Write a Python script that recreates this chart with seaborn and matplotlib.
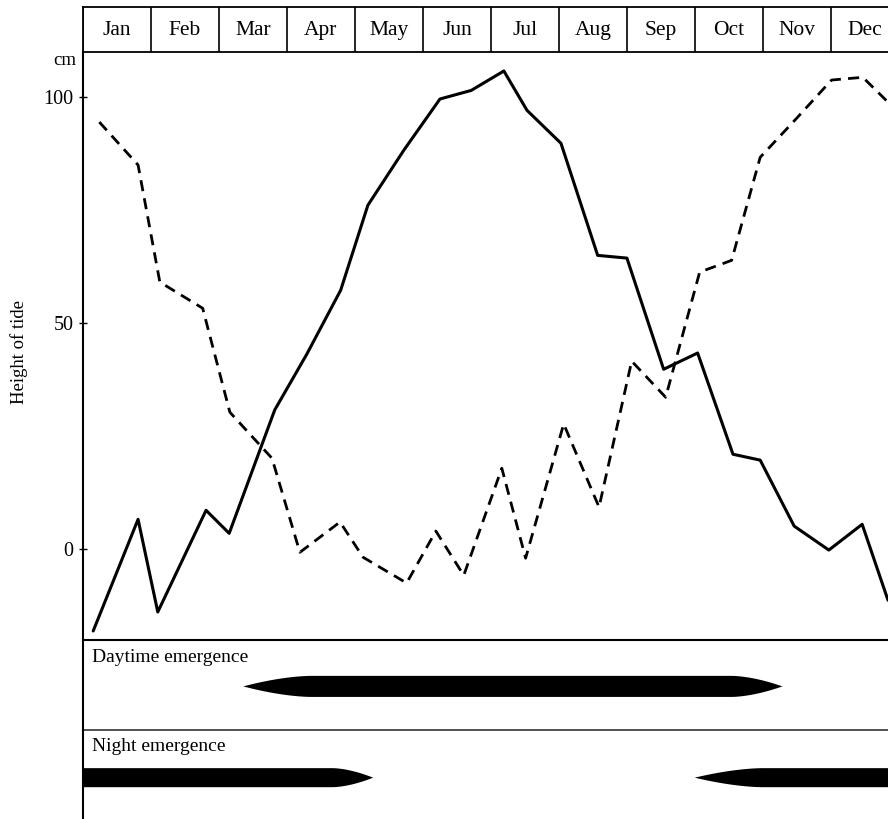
import numpy as np
import pandas as pd
import seaborn as sns
import matplotlib.pyplot as plt

# month labels for the header strip
months = ["Jan", "Feb", "Mar", "Apr", "May", "Jun",
          "Jul", "Aug", "Sep", "Oct", "Nov", "Dec"]

# solid line: position in months (0 = start of Jan), height of tide in cm
solid_x = [0.15, 0.81, 1.10, 1.81, 2.15, 2.82, 3.29, 3.79, 4.19, 4.72, 5.25, 5.71,
           6.19, 6.53, 7.03, 7.57, 8.00, 8.54, 9.04, 9.56, 9.96, 10.46, 10.97,
           11.46, 11.84]
solid_h = [-18.1, 6.6, -13.9, 8.6, 3.5, 30.8, 43.1, 57.3, 76.1, 88.3, 99.6, 101.5,
           105.8, 97.1, 89.8, 65.0, 64.4, 39.8, 43.4, 21.0, 19.7, 5.1, -0.2,
           5.5, -11.3]

# dashed line
dashed_x = [0.24, 0.81, 1.13, 1.76, 2.16, 2.78, 3.19, 3.78, 4.12, 4.76, 5.19, 5.60,
            6.16, 6.51, 7.07, 7.59, 8.07, 8.57, 9.07, 9.54, 9.96, 10.50, 11.01,
            11.47, 11.84]
dashed_h = [94.5, 85.0, 59.1, 53.3, 30.3, 20.1, -0.7, 6.0, -1.8, -7.5, 4.0, -5.8,
            17.9, -2.0, 27.7, 9.3, 41.6, 33.6, 61.3, 63.9, 86.7, 95.4, 103.8,
            104.4, 98.9]

# emergence periods (start month, end month)
day_periods = [(2.35, 10.28)]
night_periods = [(-0.5, 4.26), (8.99, 12.5)]

XMAX = 11.84
sns.set_style("white")
plt.rcParams["font.family"] = ["Liberation Serif", "DejaVu Serif"]
plt.rcParams["text.color"] = "black"
plt.rcParams["axes.labelcolor"] = "black"
plt.rcParams["ytick.color"] = "black"

fig = plt.figure(figsize=(8.88, 8.19), dpi=100)
L, W = 83 / 888, 805 / 888

ax_head = fig.add_axes([L, (819 - 52) / 819, W, 45 / 819])
ax = fig.add_axes([L, (819 - 640) / 819, W, 588 / 819])
ax_day = fig.add_axes([L, (819 - 730) / 819, W, 90 / 819])
ax_night = fig.add_axes([L, (819 - 819) / 819, W, 89 / 819])
for a in [ax_head, ax, ax_day, ax_night]:
    a.set_facecolor("none")

# header with month boxes
ax_head.set_xlim(0, XMAX)
ax_head.set_ylim(0, 1)
for i, m in enumerate(months):
    ax_head.axvline(i, color="black", lw=1.2)
    ax_head.text(i + 0.5, 0.47, m, ha="center", va="center", fontsize=15.5)
ax_head.set_xticks([])
ax_head.set_yticks([])
ax_head.spines["right"].set_visible(False)
for s in ["top", "bottom", "left"]:
    ax_head.spines[s].set_linewidth(1.3)
    ax_head.spines[s].set_color("black")

# tide lines
df_solid = pd.DataFrame({"month": solid_x, "height": solid_h})
df_dashed = pd.DataFrame({"month": dashed_x, "height": dashed_h})
sns.lineplot(data=df_solid, x="month", y="height", ax=ax, color="black", lw=2.2)
sns.lineplot(data=df_dashed, x="month", y="height", ax=ax, color="black", lw=2.0,
             linestyle=(0, (4, 2.6)))
ax.set_xlim(0, XMAX)
ax.set_ylim(-20.1, 110)
ax.set_xticks([])
ax.set_yticks([0, 50, 100])
ax.set_yticklabels(["0", "50", "100"], fontsize=14.5)
ax.tick_params(axis="y", direction="inout", length=6, width=1, pad=4, left=True)
ax.set_xlabel("")
ax.set_ylabel("Height of tide", fontsize=13.5)
ax.yaxis.set_label_coords(-0.068, 0.49)
ax.text(-0.008, 0.986, "cm", transform=ax.transAxes, ha="right", va="center",
        fontsize=13.5)
ax.spines["right"].set_visible(False)
ax.spines["top"].set_visible(False)
for s in ["left", "bottom"]:
    ax.spines[s].set_linewidth(1.5)
    ax.spines[s].set_color("black")


def spindle(a, start, end, taper_l, taper_r, yc, half):
    xs = np.linspace(max(start, -0.5), min(end, XMAX + 0.5), 800)
    tl = np.clip((xs - start) / taper_l, 0, 1)
    tr = np.clip((end - xs) / taper_r, 0, 1)
    prof = np.minimum(1 - (1 - tl) ** 1.7, 1 - (1 - tr) ** 1.7)
    a.fill_between(xs, yc - half * prof, yc + half * prof, color="black", lw=0)


for a, title in [(ax_day, "Daytime emergence"), (ax_night, "Night emergence")]:
    a.set_xlim(0, XMAX)
    a.set_ylim(0, 1)
    a.set_xticks([])
    a.set_yticks([])
    a.text(0.13, 0.81, title, ha="left", va="center", fontsize=14)
    a.spines["right"].set_visible(False)
    a.spines["top"].set_visible(False)
    a.spines["left"].set_linewidth(1.5)
    a.spines["left"].set_color("black")

ax_day.spines["bottom"].set_linewidth(1.1)
ax_day.spines["bottom"].set_color("#222222")
ax_night.spines["bottom"].set_visible(False)

spindle(ax_day, day_periods[0][0], day_periods[0][1], 1.0, 0.75, 0.49, 0.117)
spindle(ax_night, night_periods[0][0], night_periods[0][1], 0.3, 0.6, 0.47, 0.107)
spindle(ax_night, night_periods[1][0], night_periods[1][1], 1.0, 0.3, 0.47, 0.107)

fig.savefig("out.png", dpi=100)
